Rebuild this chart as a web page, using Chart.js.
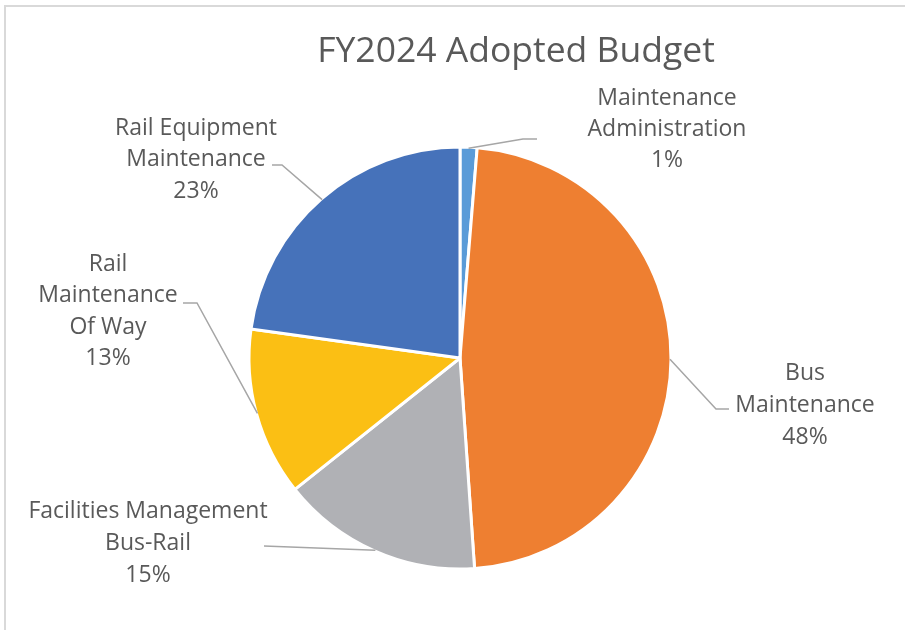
<!DOCTYPE html>
<html>
<head>
<meta charset="utf-8">
<script src="https://cdn.jsdelivr.net/npm/chart.js@4/dist/chart.umd.min.js"></script>
<style>
  html, body { margin: 0; padding: 0; background: #fff; }
  #wrap { position: relative; width: 905px; height: 630px; }
  #frame { position: absolute; left: 4px; top: 5px; right: 0; bottom: 0;
           border-left: 2px solid #d9d9d9; border-top: 2px solid #d9d9d9; }
  canvas { position: absolute; left: 0; top: 0; }
</style>
</head>
<body>
<div id="wrap">
  <div id="frame"></div>
  <canvas id="chart" width="905" height="630"></canvas>
</div>
<script>
const title = "FY2024 Adopted Budget";
const categories = [
  "Maintenance Administration",
  "Bus Maintenance",
  "Facilities Management Bus-Rail",
  "Rail Maintenance Of Way",
  "Rail Equipment Maintenance"
];
const categoryLines = [
  ["Maintenance", "Administration"],
  ["Bus", "Maintenance"],
  ["Facilities Management", "Bus-Rail"],
  ["Rail", "Maintenance", "Of Way"],
  ["Rail Equipment", "Maintenance"]
];
const shares = [1.3, 47.6, 15.4, 12.9, 22.8];
const colors = ["#5a9bd8", "#ee7f31", "#b0b1b5", "#fbbf14", "#4672ba"];

// label placement: text centre, first line middle, leader elbow points
const labelSpots = [
  { x: 667, y: 98, lh: 31, leader: [[523, 139], [537, 139]] },
  { x: 805, y: 373, lh: 32, leader: [[716, 409], [729, 409]] },
  { x: 148, y: 511, lh: 32, leader: [[264, 546]] },
  { x: 108, y: 264, lh: 31.5, leader: [[197, 303], [183, 303]] },
  { x: 196, y: 128, lh: 31.5, leader: [[282, 165], [272, 165]] }
];

const FONT = "'Open Sans', 'Noto Sans', sans-serif";
const TEXT = "#595959";

const labelPlugin = {
  id: "pieLabels",
  afterDraw(chart) {
    const ctx = chart.ctx;
    const meta = chart.getDatasetMeta(0);
    const total = shares.reduce((a, b) => a + b, 0);
    ctx.save();
    // title
    ctx.fillStyle = TEXT;
    ctx.font = "35.5px " + FONT;
    ctx.textAlign = "center";
    ctx.textBaseline = "middle";
    ctx.fillText(title, 516, 52);

    meta.data.forEach((arc, i) => {
      const p = arc.getProps(["x", "y", "startAngle", "endAngle", "outerRadius"], true);
      const mid = (p.startAngle + p.endAngle) / 2;
      const sx = p.x + Math.cos(mid) * (p.outerRadius - 1);
      const sy = p.y + Math.sin(mid) * (p.outerRadius - 1);
      const spot = labelSpots[i];
      ctx.strokeStyle = "#a6a6a6";
      ctx.lineWidth = 1.5;
      ctx.beginPath();
      ctx.moveTo(sx, sy);
      spot.leader.forEach(pt => ctx.lineTo(pt[0], pt[1]));
      ctx.stroke();

      const lines = categoryLines[i].concat([Math.round(shares[i] / total * 100) + "%"]);
      ctx.font = "23px " + FONT;
      ctx.fillStyle = TEXT;
      lines.forEach((ln, k) => ctx.fillText(ln, spot.x, spot.y + k * spot.lh));
    });
    ctx.restore();
  }
};

new Chart(document.getElementById("chart"), {
  type: "pie",
  data: {
    labels: categories,
    datasets: [{
      data: shares,
      backgroundColor: colors,
      borderColor: "#ffffff",
      borderWidth: 3
    }]
  },
  options: {
    responsive: false,
    animation: false,
    events: [],
    radius: 211,
    layout: { padding: { left: 249, right: 234, top: 147, bottom: 61 } },
    plugins: {
      legend: { display: false },
      title: { display: false },
      tooltip: { enabled: false }
    }
  },
  plugins: [labelPlugin]
});
</script>
</body>
</html>
